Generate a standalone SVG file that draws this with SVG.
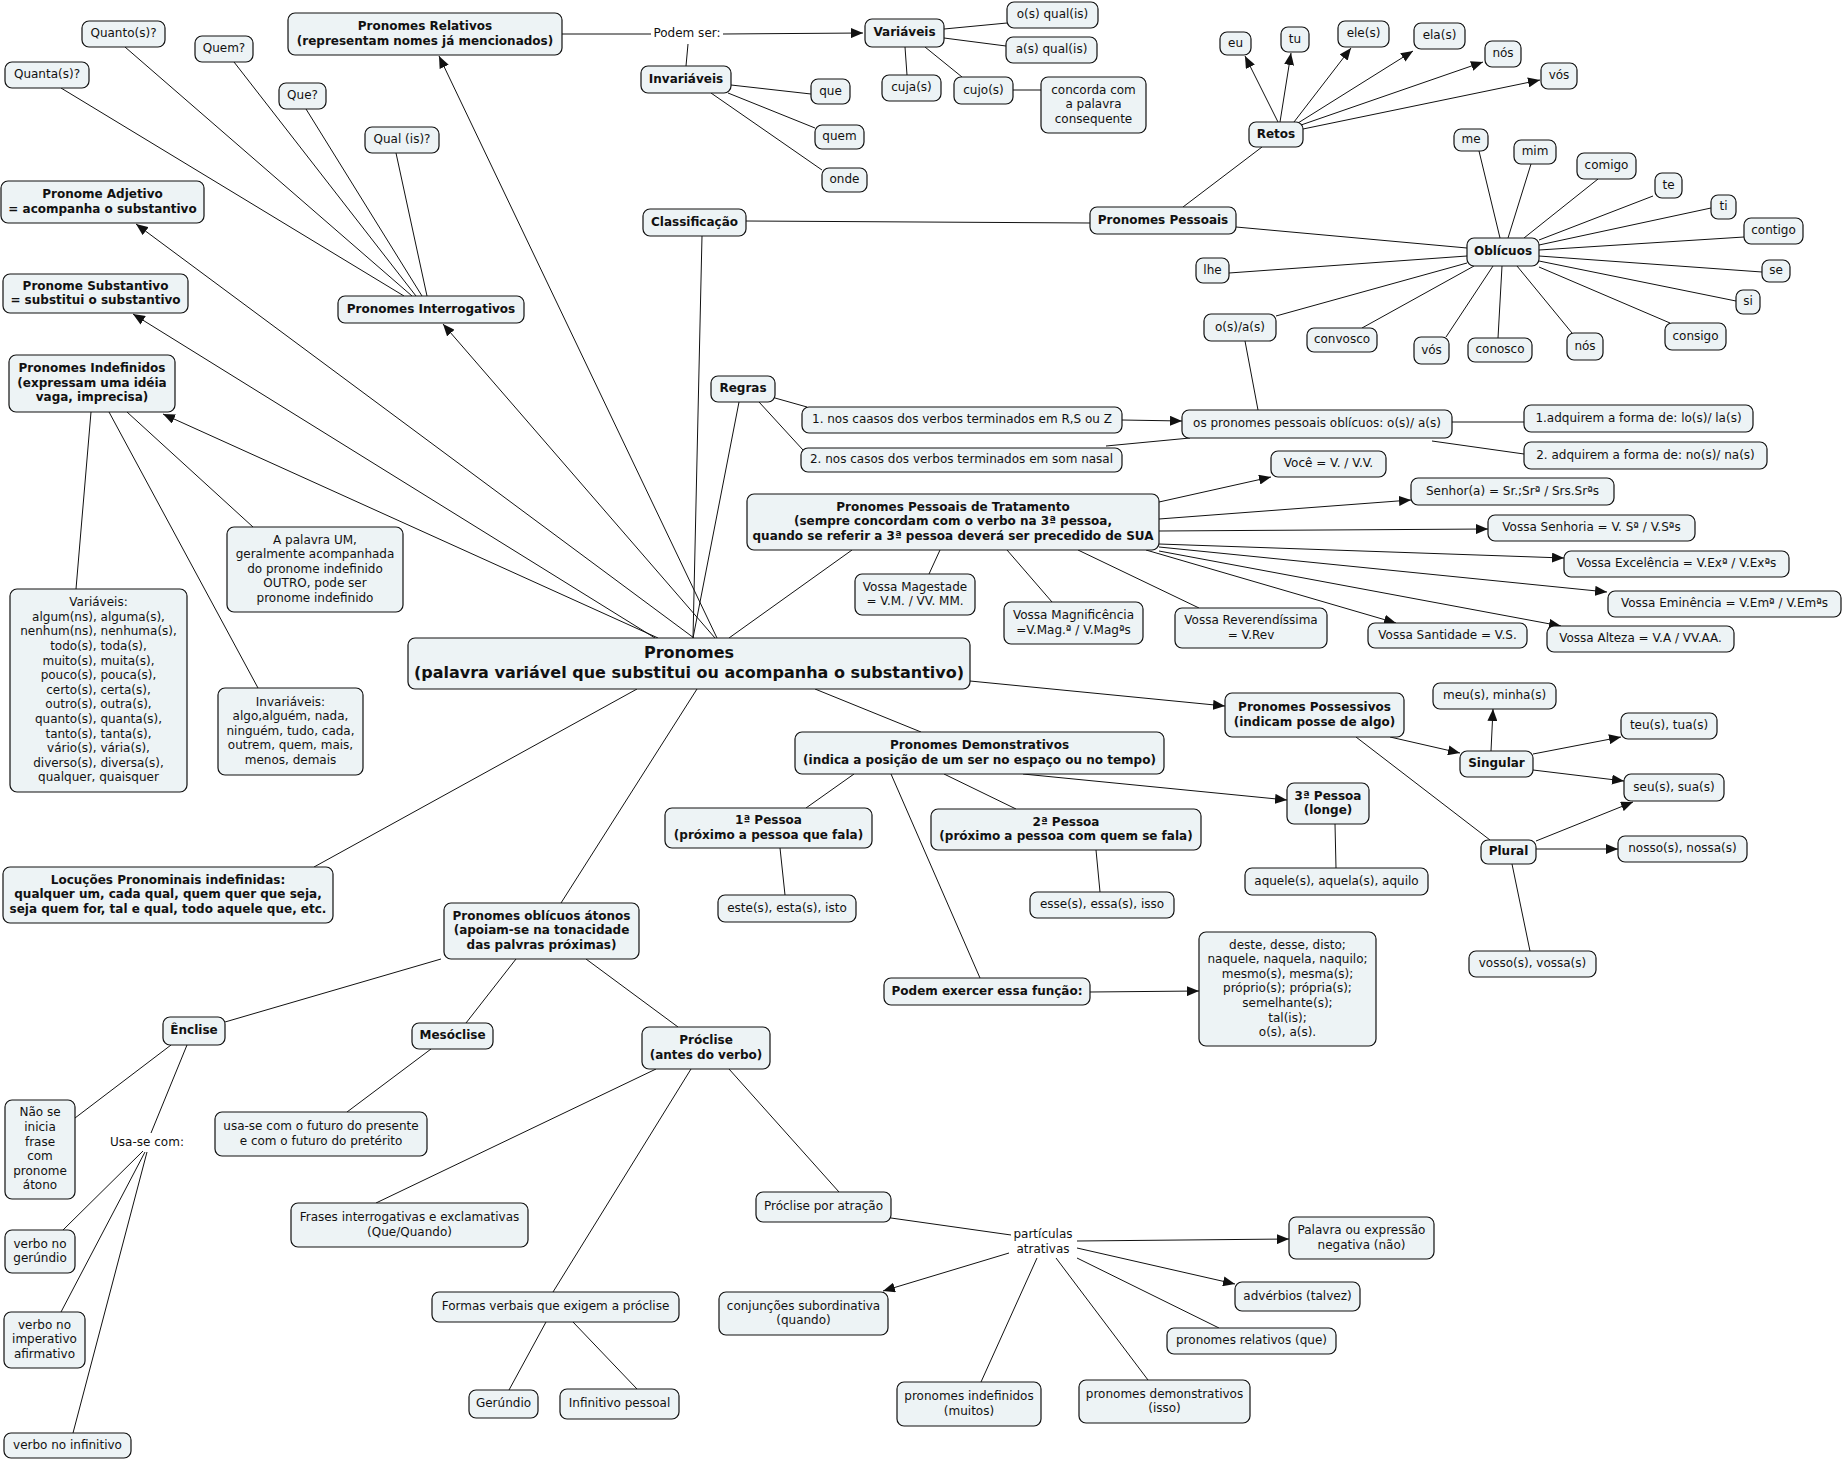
<svg xmlns="http://www.w3.org/2000/svg" width="1844" height="1460" viewBox="0 0 1844 1460">
<style>
rect{fill:#edf3f5;stroke:#111;stroke-width:1.2}
text{font-family:"DejaVu Sans","Verdana",sans-serif;font-size:12px;fill:#111;text-anchor:middle;transform:translate(0px,-1px)}
.b{font-weight:bold}
.big{font-size:16px;font-weight:bold}
#connectors line{stroke:#111;stroke-width:1}
.a{marker-end:url(#ah)}
</style>
<defs>
<marker id="ah" viewBox="0 0 12 10" refX="12" refY="5" markerWidth="12" markerHeight="10" markerUnits="userSpaceOnUse" orient="auto"><path d="M0,0 L12,5 L0,10 z" fill="#111"/></marker>
</defs>
<rect x="0" y="0" width="1844" height="1460" style="fill:#fff;stroke:none"/>
<g id="connectors">
<line x1="562" y1="34" x2="651" y2="34"/>
<line class="a" x1="723" y1="34" x2="863" y2="33"/>
<line x1="688" y1="44" x2="686" y2="66"/>
<line x1="944" y1="29" x2="1007" y2="23"/>
<line x1="944" y1="38" x2="1006" y2="46"/>
<line x1="905" y1="47" x2="907" y2="75"/>
<line x1="925" y1="47" x2="962" y2="77"/>
<line x1="1013" y1="90" x2="1041" y2="90"/>
<line x1="731" y1="85" x2="811" y2="94"/>
<line x1="728" y1="93" x2="815" y2="128"/>
<line x1="711" y1="93" x2="822" y2="170"/>
<line x1="746" y1="221" x2="1090" y2="223"/>
<line x1="702" y1="236" x2="693" y2="638"/>
<line x1="1183" y1="207" x2="1262" y2="147"/>
<line x1="1236" y1="227" x2="1467" y2="248"/>
<line class="a" x1="1278" y1="122" x2="1245" y2="56"/>
<line class="a" x1="1280" y1="122" x2="1291" y2="53"/>
<line class="a" x1="1294" y1="122" x2="1351" y2="48"/>
<line class="a" x1="1298" y1="123" x2="1413" y2="51"/>
<line class="a" x1="1301" y1="125" x2="1483" y2="62"/>
<line class="a" x1="1303" y1="129" x2="1540" y2="80"/>
<line x1="1500" y1="238" x2="1479" y2="151"/>
<line x1="1508" y1="238" x2="1531" y2="164"/>
<line x1="1524" y1="238" x2="1598" y2="179"/>
<line x1="1539" y1="240" x2="1653" y2="196"/>
<line x1="1539" y1="245" x2="1711" y2="208"/>
<line x1="1539" y1="250" x2="1744" y2="237"/>
<line x1="1539" y1="256" x2="1762" y2="272"/>
<line x1="1539" y1="261" x2="1736" y2="301"/>
<line x1="1539" y1="267" x2="1670" y2="323"/>
<line x1="1517" y1="266" x2="1572" y2="333"/>
<line x1="1502" y1="266" x2="1498" y2="338"/>
<line x1="1493" y1="266" x2="1446" y2="337"/>
<line x1="1474" y1="266" x2="1362" y2="328"/>
<line x1="1467" y1="263" x2="1276" y2="316"/>
<line x1="1467" y1="256" x2="1229" y2="273"/>
<line x1="1245" y1="341" x2="1258" y2="410"/>
<line x1="404" y1="296" x2="61" y2="88"/>
<line x1="412" y1="296" x2="125" y2="47"/>
<line x1="416" y1="296" x2="234" y2="62"/>
<line x1="422" y1="296" x2="306" y2="109"/>
<line x1="427" y1="296" x2="396" y2="153"/>
<line class="a" x1="717" y1="638" x2="439" y2="56"/>
<line class="a" x1="694" y1="638" x2="136" y2="224"/>
<line class="a" x1="655" y1="638" x2="133" y2="314"/>
<line class="a" x1="715" y1="638" x2="443" y2="324"/>
<line class="a" x1="658" y1="638" x2="163" y2="414"/>
<line x1="739" y1="402" x2="693" y2="638"/>
<line x1="852" y1="550" x2="729" y2="638"/>
<line class="a" x1="970" y1="681" x2="1225" y2="706"/>
<line x1="815" y1="689" x2="921" y2="732"/>
<line x1="697" y1="689" x2="561" y2="903"/>
<line x1="637" y1="689" x2="314" y2="867"/>
<line x1="91" y1="412" x2="76" y2="589"/>
<line x1="109" y1="412" x2="258" y2="688"/>
<line x1="127" y1="412" x2="253" y2="527"/>
<line x1="775" y1="398" x2="807" y2="407"/>
<line x1="759" y1="402" x2="803" y2="450"/>
<line class="a" x1="1122" y1="420" x2="1182" y2="421"/>
<line x1="1106" y1="446" x2="1190" y2="438"/>
<line x1="1452" y1="422" x2="1524" y2="422"/>
<line x1="1432" y1="441" x2="1524" y2="454"/>
<line class="a" x1="1159" y1="502" x2="1271" y2="477"/>
<line class="a" x1="1159" y1="519" x2="1411" y2="500"/>
<line class="a" x1="1159" y1="531" x2="1488" y2="529"/>
<line class="a" x1="1159" y1="544" x2="1564" y2="558"/>
<line class="a" x1="1159" y1="547" x2="1607" y2="592"/>
<line class="a" x1="1159" y1="551" x2="1561" y2="626"/>
<line class="a" x1="1146" y1="550" x2="1396" y2="623"/>
<line x1="940" y1="550" x2="929" y2="574"/>
<line x1="1007" y1="550" x2="1052" y2="602"/>
<line x1="1078" y1="550" x2="1199" y2="608"/>
<line class="a" x1="1390" y1="737" x2="1460" y2="753"/>
<line x1="1356" y1="737" x2="1490" y2="840"/>
<line class="a" x1="1491" y1="751" x2="1493" y2="709"/>
<line class="a" x1="1533" y1="754" x2="1621" y2="737"/>
<line class="a" x1="1533" y1="770" x2="1624" y2="781"/>
<line class="a" x1="1536" y1="841" x2="1633" y2="802"/>
<line class="a" x1="1536" y1="849" x2="1618" y2="849"/>
<line x1="1512" y1="864" x2="1530" y2="951"/>
<line x1="1335" y1="824" x2="1336" y2="868"/>
<line class="a" x1="1023" y1="774" x2="1287" y2="800"/>
<line x1="854" y1="774" x2="806" y2="808"/>
<line x1="944" y1="774" x2="1016" y2="809"/>
<line x1="891" y1="774" x2="980" y2="978"/>
<line x1="780" y1="848" x2="785" y2="895"/>
<line x1="1096" y1="850" x2="1100" y2="892"/>
<line class="a" x1="1090" y1="992" x2="1199" y2="991"/>
<line x1="441" y1="959" x2="225" y2="1022"/>
<line x1="516" y1="959" x2="466" y2="1023"/>
<line x1="586" y1="959" x2="678" y2="1027"/>
<line x1="171" y1="1045" x2="75" y2="1118"/>
<line x1="187" y1="1045" x2="151" y2="1133"/>
<line x1="143" y1="1151" x2="63" y2="1230"/>
<line x1="145" y1="1152" x2="61" y2="1312"/>
<line x1="147" y1="1152" x2="73" y2="1433"/>
<line x1="431" y1="1049" x2="347" y2="1112"/>
<line x1="656" y1="1069" x2="376" y2="1203"/>
<line x1="691" y1="1069" x2="553" y2="1292"/>
<line x1="729" y1="1069" x2="839" y2="1192"/>
<line x1="546" y1="1322" x2="509" y2="1390"/>
<line x1="573" y1="1322" x2="637" y2="1389"/>
<line x1="891" y1="1218" x2="1011" y2="1235"/>
<line class="a" x1="1009" y1="1253" x2="883" y2="1291"/>
<line class="a" x1="1077" y1="1241" x2="1289" y2="1239"/>
<line class="a" x1="1077" y1="1248" x2="1235" y2="1284"/>
<line x1="1077" y1="1258" x2="1219" y2="1328"/>
<line x1="1037" y1="1258" x2="981" y2="1382"/>
<line x1="1056" y1="1258" x2="1148" y2="1380"/>
</g>
<g id="labels">
<text x="687" y="38.3">Podem ser:</text>
<text x="147" y="1147">Usa-se com:</text>
<text x="1043" y="1239.3">partículas</text>
<text x="1043" y="1253.9">atrativas</text>
</g>
<g id="n-relativos"><rect x="288" y="13" width="274" height="42" rx="7"/><text class="b" x="425" y="31">Pronomes Relativos</text><text class="b" x="425" y="45.6">(representam nomes já mencionados)</text></g>
<g id="n-variaveis"><rect x="865" y="19" width="79" height="28" rx="7"/><text class="b" x="904.5" y="37.3">Variáveis</text></g>
<g id="n-invariaveis"><rect x="641" y="66" width="90" height="27" rx="7"/><text class="b" x="686" y="83.8">Invariáveis</text></g>
<g id="n-osqual"><rect x="1007" y="2" width="91" height="26" rx="7"/><text x="1052.5" y="19.3">o(s) qual(is)</text></g>
<g id="n-asqual"><rect x="1006" y="37" width="91" height="26" rx="7"/><text x="1051.5" y="54.3">a(s) qual(is)</text></g>
<g id="n-cujas"><rect x="882" y="75" width="59" height="26" rx="7"/><text x="911.5" y="92.3">cuja(s)</text></g>
<g id="n-cujos"><rect x="954" y="77" width="59" height="27" rx="7"/><text x="983.5" y="94.8">cujo(s)</text></g>
<g id="n-concorda"><rect x="1041" y="77" width="105" height="56" rx="7"/><text x="1093.5" y="94.7">concorda com</text><text x="1093.5" y="109.3">a palavra</text><text x="1093.5" y="123.9">consequente</text></g>
<g id="n-que"><rect x="811" y="79" width="39" height="25" rx="7"/><text x="830.5" y="95.8">que</text></g>
<g id="n-quem"><rect x="815" y="125" width="49" height="24" rx="7"/><text x="839.5" y="141.3">quem</text></g>
<g id="n-onde"><rect x="822" y="168" width="45" height="24" rx="7"/><text x="844.5" y="184.3">onde</text></g>
<g id="n-classificacao"><rect x="643" y="209" width="103" height="27" rx="7"/><text class="b" x="694.5" y="226.8">Classificação</text></g>
<g id="n-pessoais"><rect x="1090" y="207" width="146" height="27" rx="7"/><text class="b" x="1163" y="224.8">Pronomes Pessoais</text></g>
<g id="n-retos"><rect x="1249" y="122" width="54" height="25" rx="7"/><text class="b" x="1276" y="138.8">Retos</text></g>
<g id="n-eu"><rect x="1220" y="32" width="31" height="23" rx="7"/><text x="1235.5" y="47.8">eu</text></g>
<g id="n-tu"><rect x="1281" y="27" width="28" height="25" rx="7"/><text x="1295" y="43.8">tu</text></g>
<g id="n-eles"><rect x="1338" y="21" width="51" height="26" rx="7"/><text x="1363.5" y="38.3">ele(s)</text></g>
<g id="n-elas"><rect x="1414" y="23" width="51" height="26" rx="7"/><text x="1439.5" y="40.3">ela(s)</text></g>
<g id="n-nos1"><rect x="1485" y="41" width="36" height="26" rx="7"/><text x="1503" y="58.3">nós</text></g>
<g id="n-vos1"><rect x="1541" y="63" width="36" height="26" rx="7"/><text x="1559" y="80.3">vós</text></g>
<g id="n-me"><rect x="1454" y="129" width="34" height="22" rx="7"/><text x="1471" y="144.3">me</text></g>
<g id="n-mim"><rect x="1514" y="140" width="42" height="24" rx="7"/><text x="1535" y="156.3">mim</text></g>
<g id="n-comigo"><rect x="1577" y="153" width="59" height="26" rx="7"/><text x="1606.5" y="170.3">comigo</text></g>
<g id="n-te"><rect x="1655" y="173" width="27" height="25" rx="7"/><text x="1668.5" y="189.8">te</text></g>
<g id="n-ti"><rect x="1711" y="195" width="25" height="24" rx="7"/><text x="1723.5" y="211.3">ti</text></g>
<g id="n-contigo"><rect x="1744" y="218" width="59" height="26" rx="7"/><text x="1773.5" y="235.3">contigo</text></g>
<g id="n-se"><rect x="1762" y="260" width="28" height="22" rx="7"/><text x="1776" y="275.3">se</text></g>
<g id="n-si"><rect x="1736" y="290" width="24" height="24" rx="7"/><text x="1748" y="306.3">si</text></g>
<g id="n-consigo"><rect x="1665" y="323" width="61" height="27" rx="7"/><text x="1695.5" y="340.8">consigo</text></g>
<g id="n-nos2"><rect x="1567" y="333" width="36" height="27" rx="7"/><text x="1585" y="350.8">nós</text></g>
<g id="n-conosco"><rect x="1468" y="338" width="64" height="24" rx="7"/><text x="1500" y="354.3">conosco</text></g>
<g id="n-vos2"><rect x="1414" y="337" width="35" height="27" rx="7"/><text x="1431.5" y="354.8">vós</text></g>
<g id="n-convosco"><rect x="1307" y="328" width="70" height="24" rx="7"/><text x="1342" y="344.3">convosco</text></g>
<g id="n-osas"><rect x="1204" y="314" width="72" height="27" rx="7"/><text x="1240" y="331.8">o(s)/a(s)</text></g>
<g id="n-lhe"><rect x="1196" y="258" width="33" height="25" rx="7"/><text x="1212.5" y="274.8">lhe</text></g>
<g id="n-obliquos"><rect x="1467" y="238" width="72" height="28" rx="7"/><text class="b" x="1503" y="256.3">Oblícuos</text></g>
<g id="n-quanto"><rect x="82" y="21" width="83" height="26" rx="7"/><text x="123.5" y="38.3">Quanto(s)?</text></g>
<g id="n-quem2"><rect x="195" y="36" width="58" height="26" rx="7"/><text x="224" y="53.3">Quem?</text></g>
<g id="n-quanta"><rect x="5" y="62" width="84" height="26" rx="7"/><text x="47" y="79.3">Quanta(s)?</text></g>
<g id="n-que2"><rect x="279" y="83" width="47" height="26" rx="7"/><text x="302.5" y="100.3">Que?</text></g>
<g id="n-qual"><rect x="365" y="127" width="74" height="26" rx="7"/><text x="402" y="144.3">Qual (is)?</text></g>
<g id="n-adjetivo"><rect x="1" y="181" width="203" height="42" rx="7"/><text class="b" x="102.5" y="199">Pronome Adjetivo</text><text class="b" x="102.5" y="213.6">= acompanha o substantivo</text></g>
<g id="n-substantivo"><rect x="3" y="274" width="185" height="39" rx="7"/><text class="b" x="95.5" y="290.5">Pronome Substantivo</text><text class="b" x="95.5" y="305.1">= substitui o substantivo</text></g>
<g id="n-interrogativos"><rect x="338" y="296" width="186" height="27" rx="7"/><text class="b" x="431" y="313.8">Pronomes Interrogativos</text></g>
<g id="n-indefinidos"><rect x="9" y="355" width="166" height="57" rx="7"/><text class="b" x="92" y="373.2">Pronomes Indefinidos</text><text class="b" x="92" y="387.8">(expressam uma idéia</text><text class="b" x="92" y="402.4">vaga, imprecisa)</text></g>
<g id="n-um"><rect x="227" y="527" width="176" height="85" rx="7"/><text x="315" y="544.6">A palavra UM,</text><text x="315" y="559.2">geralmente acompanhada</text><text x="315" y="573.8">do pronome indefinido</text><text x="315" y="588.4">OUTRO, pode ser</text><text x="315" y="603">pronome indefinido</text></g>
<g id="n-variaveis-ind"><rect x="10" y="589" width="177" height="203" rx="7"/><text x="98.5" y="607.2">Variáveis:</text><text x="98.5" y="621.8">algum(ns), alguma(s),</text><text x="98.5" y="636.4">nenhum(ns), nenhuma(s),</text><text x="98.5" y="651">todo(s), toda(s),</text><text x="98.5" y="665.6">muito(s), muita(s),</text><text x="98.5" y="680.2">pouco(s), pouca(s),</text><text x="98.5" y="694.8">certo(s), certa(s),</text><text x="98.5" y="709.4">outro(s), outra(s),</text><text x="98.5" y="724">quanto(s), quanta(s),</text><text x="98.5" y="738.6">tanto(s), tanta(s),</text><text x="98.5" y="753.2">vário(s), vária(s),</text><text x="98.5" y="767.8">diverso(s), diversa(s),</text><text x="98.5" y="782.4">qualquer, quaisquer</text></g>
<g id="n-invariaveis-ind"><rect x="218" y="688" width="145" height="87" rx="7"/><text x="290.5" y="706.6">Invariáveis:</text><text x="290.5" y="721.2">algo,alguém, nada,</text><text x="290.5" y="735.8">ninguém, tudo, cada,</text><text x="290.5" y="750.4">outrem, quem, mais,</text><text x="290.5" y="765">menos, demais</text></g>
<g id="n-pronomes"><rect x="408" y="638" width="562" height="51" rx="7"/><text class="big" x="689" y="659.2">Pronomes</text><text class="big" x="689" y="679.2">(palavra variável que substitui ou acompanha o substantivo)</text></g>
<g id="n-regras"><rect x="711" y="376" width="64" height="26" rx="7"/><text class="b" x="743" y="393.3">Regras</text></g>
<g id="n-regra1"><rect x="802" y="407" width="320" height="26" rx="7"/><text x="962" y="424.3">1. nos caasos dos verbos terminados em R,S ou Z</text></g>
<g id="n-regra2"><rect x="801" y="448" width="321" height="24" rx="7"/><text x="961.5" y="464.3">2. nos casos dos verbos terminados em som nasal</text></g>
<g id="n-ospronomes"><rect x="1182" y="410" width="270" height="28" rx="7"/><text x="1317" y="428.3">os pronomes pessoais oblícuos: o(s)/ a(s)</text></g>
<g id="n-adq1"><rect x="1524" y="405" width="229" height="27" rx="7"/><text x="1638.5" y="422.8">1.adquirem a forma de: lo(s)/ la(s)</text></g>
<g id="n-adq2"><rect x="1524" y="442" width="243" height="27" rx="7"/><text x="1645.5" y="459.8">2. adquirem a forma de: no(s)/ na(s)</text></g>
<g id="n-tratamento"><rect x="747" y="494" width="412" height="56" rx="7"/><text class="b" x="953" y="511.7">Pronomes Pessoais de Tratamento</text><text class="b" x="953" y="526.3">(sempre concordam com o verbo na 3ª pessoa,</text><text class="b" x="953" y="540.9">quando se referir a 3ª pessoa deverá ser precedido de SUA</text></g>
<g id="n-voce"><rect x="1271" y="451" width="115" height="26" rx="7"/><text x="1328.5" y="468.3">Você = V. / V.V.</text></g>
<g id="n-senhor"><rect x="1411" y="478" width="203" height="27" rx="7"/><text x="1512.5" y="495.8">Senhor(a) = Sr.;Srª / Srs.Srªs</text></g>
<g id="n-vsenhoria"><rect x="1488" y="515" width="207" height="26" rx="7"/><text x="1591.5" y="532.3">Vossa Senhoria = V. Sª / V.Sªs</text></g>
<g id="n-vexcelencia"><rect x="1564" y="551" width="225" height="26" rx="7"/><text x="1676.5" y="568.3">Vossa Excelência = V.Exª / V.Exªs</text></g>
<g id="n-veminencia"><rect x="1608" y="591" width="233" height="26" rx="7"/><text x="1724.5" y="608.3">Vossa Eminência = V.Emª / V.Emªs</text></g>
<g id="n-vsantidade"><rect x="1368" y="623" width="159" height="25" rx="7"/><text x="1447.5" y="639.8">Vossa Santidade = V.S.</text></g>
<g id="n-valteza"><rect x="1547" y="626" width="187" height="26" rx="7"/><text x="1640.5" y="643.3">Vossa Alteza = V.A / VV.AA.</text></g>
<g id="n-vmagestade"><rect x="855" y="574" width="120" height="41" rx="7"/><text x="915" y="591.5">Vossa Magestade</text><text x="915" y="606.1">= V.M. / VV. MM.</text></g>
<g id="n-vmagnificencia"><rect x="1004" y="602" width="139" height="42" rx="7"/><text x="1073.5" y="620">Vossa Magnificência</text><text x="1073.5" y="634.6">=V.Mag.ª / V.Magªs</text></g>
<g id="n-vreverendissima"><rect x="1175" y="608" width="152" height="40" rx="7"/><text x="1251" y="625">Vossa Reverendíssima</text><text x="1251" y="639.6">= V.Rev</text></g>
<g id="n-possessivos"><rect x="1225" y="693" width="179" height="44" rx="7"/><text class="b" x="1314.5" y="712">Pronomes Possessivos</text><text class="b" x="1314.5" y="726.6">(indicam posse de algo)</text></g>
<g id="n-meu"><rect x="1433" y="683" width="123" height="26" rx="7"/><text x="1494.5" y="700.3">meu(s), minha(s)</text></g>
<g id="n-teu"><rect x="1621" y="713" width="96" height="26" rx="7"/><text x="1669" y="730.3">teu(s), tua(s)</text></g>
<g id="n-singular"><rect x="1460" y="751" width="73" height="26" rx="7"/><text class="b" x="1496.5" y="768.3">Singular</text></g>
<g id="n-seu"><rect x="1624" y="774" width="100" height="27" rx="7"/><text x="1674" y="791.8">seu(s), sua(s)</text></g>
<g id="n-plural"><rect x="1481" y="840" width="55" height="24" rx="7"/><text class="b" x="1508.5" y="856.3">Plural</text></g>
<g id="n-nosso"><rect x="1618" y="836" width="129" height="26" rx="7"/><text x="1682.5" y="853.3">nosso(s), nossa(s)</text></g>
<g id="n-vosso"><rect x="1469" y="951" width="127" height="26" rx="7"/><text x="1532.5" y="968.3">vosso(s), vossa(s)</text></g>
<g id="n-pessoa3"><rect x="1287" y="783" width="82" height="41" rx="7"/><text class="b" x="1328" y="800.5">3ª Pessoa</text><text class="b" x="1328" y="815.1">(longe)</text></g>
<g id="n-aquele"><rect x="1245" y="868" width="183" height="27" rx="7"/><text x="1336.5" y="885.8">aquele(s), aquela(s), aquilo</text></g>
<g id="n-deste"><rect x="1199" y="932" width="177" height="114" rx="7"/><text x="1287.5" y="949.5">deste, desse, disto;</text><text x="1287.5" y="964.1">naquele, naquela, naquilo;</text><text x="1287.5" y="978.7">mesmo(s), mesma(s);</text><text x="1287.5" y="993.3">próprio(s); própria(s);</text><text x="1287.5" y="1007.9">semelhante(s);</text><text x="1287.5" y="1022.5">tal(is);</text><text x="1287.5" y="1037.1">o(s), a(s).</text></g>
<g id="n-demonstrativos"><rect x="795" y="732" width="369" height="42" rx="7"/><text class="b" x="979.5" y="750">Pronomes Demonstrativos</text><text class="b" x="979.5" y="764.6">(indica a posição de um ser no espaço ou no tempo)</text></g>
<g id="n-pessoa1"><rect x="665" y="808" width="207" height="40" rx="7"/><text class="b" x="768.5" y="825">1ª Pessoa</text><text class="b" x="768.5" y="839.6">(próximo a pessoa que fala)</text></g>
<g id="n-pessoa2"><rect x="931" y="809" width="270" height="41" rx="7"/><text class="b" x="1066" y="826.5">2ª Pessoa</text><text class="b" x="1066" y="841.1">(próximo a pessoa com quem se fala)</text></g>
<g id="n-este"><rect x="718" y="895" width="138" height="27" rx="7"/><text x="787" y="912.8">este(s), esta(s), isto</text></g>
<g id="n-esse"><rect x="1030" y="892" width="144" height="26" rx="7"/><text x="1102" y="909.3">esse(s), essa(s), isso</text></g>
<g id="n-podemexercer"><rect x="884" y="978" width="206" height="27" rx="7"/><text class="b" x="987" y="995.8">Podem exercer essa função:</text></g>
<g id="n-locucoes"><rect x="3" y="867" width="330" height="56" rx="7"/><text class="b" x="168" y="884.7">Locuções Pronominais indefinidas:</text><text class="b" x="168" y="899.3">qualquer um, cada qual, quem quer que seja,</text><text class="b" x="168" y="913.9">seja quem for, tal e qual, todo aquele que, etc.</text></g>
<g id="n-atonos"><rect x="444" y="903" width="195" height="56" rx="7"/><text class="b" x="541.5" y="920.7">Pronomes oblícuos átonos</text><text class="b" x="541.5" y="935.3">(apoiam-se na tonacidade</text><text class="b" x="541.5" y="949.9">das palvras próximas)</text></g>
<g id="n-enclise"><rect x="163" y="1017" width="62" height="28" rx="7"/><text class="b" x="194" y="1035.3">Ênclise</text></g>
<g id="n-mesoclise"><rect x="412" y="1023" width="81" height="26" rx="7"/><text class="b" x="452.5" y="1040.3">Mesóclise</text></g>
<g id="n-proclise"><rect x="642" y="1027" width="128" height="42" rx="7"/><text class="b" x="706" y="1045">Próclise</text><text class="b" x="706" y="1059.6">(antes do verbo)</text></g>
<g id="n-naoseinicia"><rect x="5" y="1100" width="70" height="99" rx="7"/><text x="40" y="1117.3">Não se</text><text x="40" y="1131.9">inicia</text><text x="40" y="1146.5">frase</text><text x="40" y="1161.1">com</text><text x="40" y="1175.7">pronome</text><text x="40" y="1190.3">átono</text></g>
<g id="n-usafuturo"><rect x="215" y="1112" width="212" height="44" rx="7"/><text x="321" y="1131">usa-se com o futuro do presente</text><text x="321" y="1145.6">e com o futuro do pretérito</text></g>
<g id="n-gerundio"><rect x="5" y="1230" width="70" height="43" rx="7"/><text x="40" y="1248.5">verbo no</text><text x="40" y="1263.1">gerúndio</text></g>
<g id="n-imperativo"><rect x="4" y="1312" width="81" height="56" rx="7"/><text x="44.5" y="1329.7">verbo no</text><text x="44.5" y="1344.3">imperativo</text><text x="44.5" y="1358.9">afirmativo</text></g>
<g id="n-infinitivo"><rect x="4" y="1433" width="127" height="25" rx="7"/><text x="67.5" y="1449.8">verbo no infinitivo</text></g>
<g id="n-frases"><rect x="291" y="1203" width="237" height="44" rx="7"/><text x="409.5" y="1222">Frases interrogativas e exclamativas</text><text x="409.5" y="1236.6">(Que/Quando)</text></g>
<g id="n-formas"><rect x="432" y="1292" width="247" height="30" rx="7"/><text x="555.5" y="1311.3">Formas verbais que exigem a próclise</text></g>
<g id="n-gerundio2"><rect x="469" y="1390" width="69" height="28" rx="7"/><text x="503.5" y="1408.3">Gerúndio</text></g>
<g id="n-infpessoal"><rect x="560" y="1389" width="119" height="30" rx="7"/><text x="619.5" y="1408.3">Infinitivo pessoal</text></g>
<g id="n-procatracao"><rect x="756" y="1192" width="135" height="30" rx="7"/><text x="823.5" y="1211.3">Próclise por atração</text></g>
<g id="n-conjuncoes"><rect x="719" y="1292" width="169" height="43" rx="7"/><text x="803.5" y="1310.5">conjunções subordinativa</text><text x="803.5" y="1325.1">(quando)</text></g>
<g id="n-pindef"><rect x="897" y="1382" width="144" height="44" rx="7"/><text x="969" y="1401">pronomes indefinidos</text><text x="969" y="1415.6">(muitos)</text></g>
<g id="n-pdemon"><rect x="1079" y="1380" width="171" height="43" rx="7"/><text x="1164.5" y="1398.5">pronomes demonstrativos</text><text x="1164.5" y="1413.1">(isso)</text></g>
<g id="n-prel"><rect x="1167" y="1328" width="169" height="26" rx="7"/><text x="1251.5" y="1345.3">pronomes relativos (que)</text></g>
<g id="n-adverbios"><rect x="1235" y="1282" width="125" height="29" rx="7"/><text x="1297.5" y="1300.8">advérbios (talvez)</text></g>
<g id="n-palavra"><rect x="1289" y="1217" width="145" height="42" rx="7"/><text x="1361.5" y="1235">Palavra ou expressão</text><text x="1361.5" y="1249.6">negativa (não)</text></g>
</svg>
